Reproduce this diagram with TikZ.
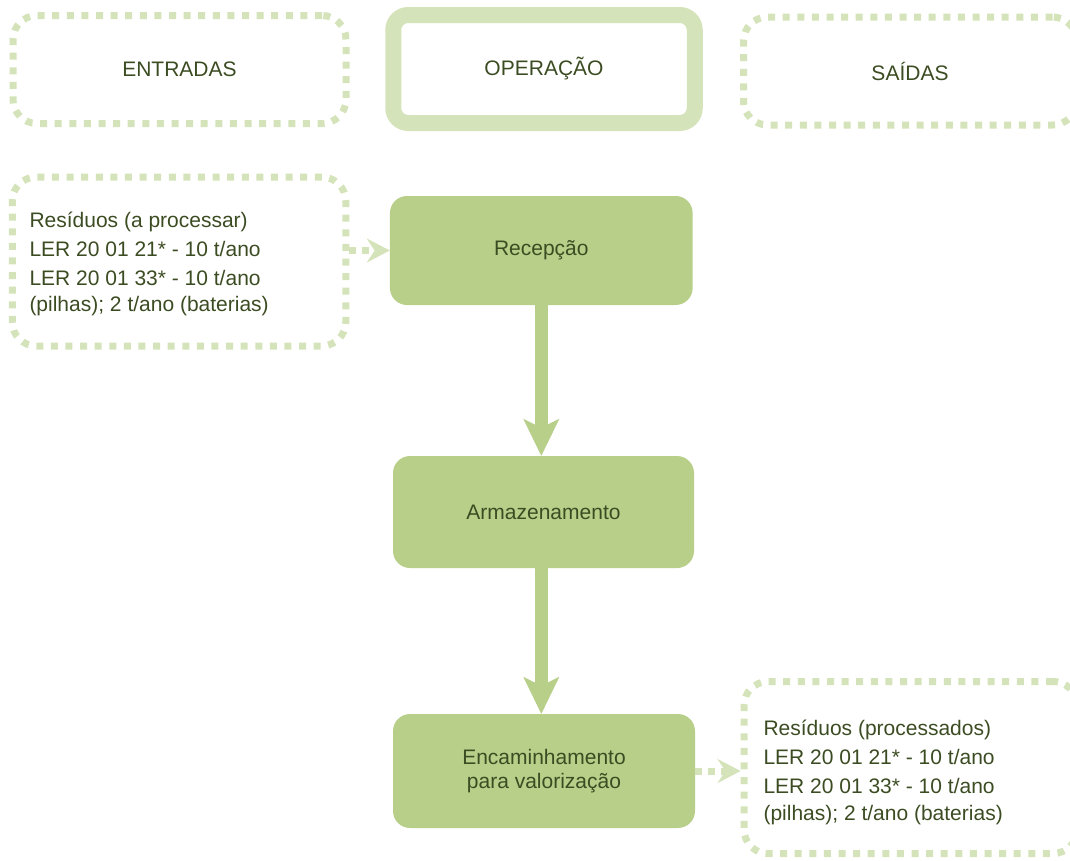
\documentclass[tikz,border=0pt]{standalone}
\usepackage{fontspec}
\setmainfont{Liberation Sans}
\usetikzlibrary{arrows.meta}
\definecolor{dotcol}{RGB}{212,227,185}
\definecolor{fillcol}{RGB}{184,207,138}
\definecolor{txtcol}{RGB}{60,76,34}
\begin{document}
\begin{tikzpicture}[x=1pt,y=-1pt,
  every node/.style={font=\fontsize{21}{29}\selectfont, text=txtcol, inner sep=0pt},
  dotbox/.style={draw=dotcol, line width=7pt, dash pattern=on 7pt off 7.6pt, rounded corners=24pt},
  opbox/.style={draw=dotcol, line width=16pt, rounded corners=15pt},
  stepbox/.style={fill=fillcol, rounded corners=17pt, align=center, font=\fontsize{21}{24}\selectfont},
  dotarrow/.style={draw=dotcol, line width=7pt, dash pattern=on 7pt off 6pt,
    -{Stealth[length=23pt,width=24pt,inset=8pt,line width=0.5pt]}},
  bigarrow/.style={draw=fillcol, line width=13pt,
    -{Stealth[length=37pt,width=36pt,inset=9pt,line width=0.5pt]}},
  textblock/.style={anchor=base west, align=left}
]
\useasboundingbox (0,0) rectangle (1070,860);

% header boxes
\node[dotbox, minimum width=333pt, minimum height=108pt] (entradas) at (179.5,69.5) {ENTRADAS};
\node[opbox, minimum width=301.5pt, minimum height=108pt] (operacao) at (544,69) {OPERAÇÃO};
\node[dotbox, minimum width=333pt, minimum height=108pt] (saidas) at (910,71) {SAÍDAS};

% input / output boxes (text nodes anchored at the baseline of their last line)
\node[dotbox, minimum width=333.5pt, minimum height=169pt] (inbox) at (179,261.5) {};
\node[textblock] (intext) at (29.3,311.7) {Resíduos (a processar)\\LER 20 01 21* - 10 t/ano\\LER 20 01 33* - 10 t/ano\\[-3pt](pilhas); 2 t/ano (baterias)};

\node[dotbox, minimum width=333pt, minimum height=172pt] (outbox) at (910.5,767.5) {};
\node[textblock] (outtext) at (763.3,820) {Resíduos (processados)\\LER 20 01 21* - 10 t/ano\\LER 20 01 33* - 10 t/ano\\[-2pt](pilhas); 2 t/ano (baterias)};

% process steps
\node[stepbox, minimum width=302.7pt, minimum height=109pt] (recep) at (541.3,250.5) {Recepção};
\node[stepbox, minimum width=301pt, minimum height=112pt] (armaz) at (543.5,512) {Armazenamento};
\node[stepbox, minimum width=302pt, minimum height=114pt] (encam) at (544,771) {Encaminhamento\\para valorização};

% connectors
\draw[dotarrow] (inbox.east |- recep.west) -- (recep.west);
\draw[dotarrow] (encam.east) -- (outbox.west |- encam.east);
\draw[bigarrow] (recep.south) -- (recep.south |- armaz.north);
\draw[bigarrow] (armaz.south -| recep.south) -- (recep.south |- encam.north);
\end{tikzpicture}
\end{document}
